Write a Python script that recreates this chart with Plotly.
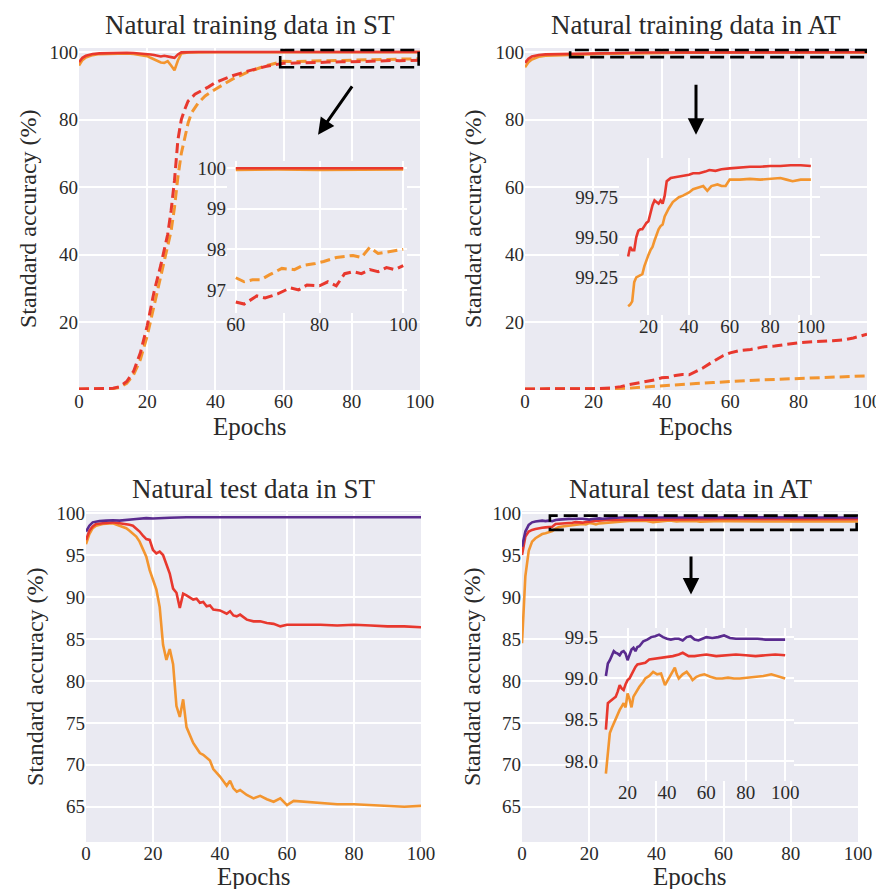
import plotly.graph_objects as go

# ---------------- data ----------------
epochs_ticks = [0, 20, 40, 60, 80, 100]

# Natural training data in ST
st_train_solid_x = [0, 1, 2, 3, 4, 6, 8, 10, 12, 14, 16, 18, 20, 21, 22, 23, 24, 25, 26, 27,
                    28, 29, 30, 32, 35, 40, 50, 60, 70, 80, 90, 100]
st_train_red_solid = [97.0, 98.3, 98.9, 99.2, 99.4, 99.6, 99.7, 99.75, 99.7, 99.8,
                      99.7, 99.6, 99.5, 99.3, 99.1, 98.8, 98.7, 98.9, 98.6, 98.5,
                      98.3, 99.3, 99.9, 99.98, 100.0, 100.0, 100.0, 100.0, 100.0, 100.0,
                      100.0, 100.0]
st_train_orange_solid = [96.0, 97.6, 98.4, 98.8, 99.1, 99.4, 99.5, 99.6, 99.6, 99.6,
                         99.4, 99.2, 98.8, 98.3, 97.8, 97.2, 96.9, 96.8, 97.3, 96.0,
                         94.6, 97.5, 99.6, 99.85, 99.95, 99.96, 99.96, 99.96, 99.97, 99.96,
                         99.97, 99.97]
st_train_red_dash_x = [0, 5, 10, 12, 14, 16, 18, 20, 22, 24, 26, 27, 28, 29, 30, 31, 32, 34, 36, 38,
                       40, 45, 50, 55, 60, 62, 65, 67, 70, 73, 75, 77, 80, 82, 84, 86, 88, 90, 92, 94,
                       96, 98, 100]
st_train_red_dash = [0.3, 0.3, 0.5, 1.0, 2.5, 5.5, 11.0, 19.0, 29.0, 37.0, 46.0, 53.0, 62.0, 74.0, 80.0, 83.0, 85.5, 87.5, 88.5, 89.7,
                     91.0, 93.0, 94.5, 95.8, 96.7, 96.65, 96.85, 96.8, 96.9, 97.05, 97.0, 97.12, 97.1, 97.2, 97.1, 97.4, 97.45, 97.4, 97.5, 97.45,
                     97.55, 97.5, 97.6]
st_train_orange_dash_x = [0, 5, 10, 12, 14, 16, 18, 20, 22, 24, 26, 27, 28, 29, 30, 31, 32, 33, 35, 37,
                          40, 45, 50, 55, 60, 62, 64, 66, 68, 71, 74, 76, 79, 81, 84, 88, 90, 92, 94, 97,
                          100]
st_train_orange_dash = [0.3, 0.3, 0.4, 0.8, 2.0, 4.5, 9.0, 16.0, 25.0, 34.0, 42.0, 47.0, 54.0, 63.0, 70.0, 75.0, 79.0, 82.0, 85.0, 87.0,
                        89.0, 92.0, 94.3, 96.0, 97.3, 97.2, 97.25, 97.25, 97.37, 97.53, 97.5, 97.6, 97.65, 97.7, 97.8, 97.85, 97.8, 98.05, 97.9, 97.95,
                        98.0]

# Natural training data in AT
at_train_red_x = [0, 1, 2, 3, 4, 6, 8, 10, 11, 12, 13, 14, 15, 16, 17, 18, 19, 20, 21, 22,
                  23, 24, 25, 26, 27, 28, 29, 30, 31, 33, 35, 38, 40, 42, 45, 48, 50, 53, 56, 60,
                  65, 70, 75, 80, 85, 90, 95, 100]
at_train_red_solid = [96.8, 98.0, 98.7, 99.0, 99.15, 99.3, 99.35, 99.38, 99.44, 99.42,
                      99.42, 99.5, 99.54, 99.55, 99.55, 99.57, 99.59, 99.6, 99.66, 99.70,
                      99.73, 99.72, 99.71, 99.73, 99.71, 99.76, 99.85, 99.86, 99.87, 99.875,
                      99.88, 99.885, 99.89, 99.9, 99.9, 99.91, 99.92, 99.915, 99.925, 99.93,
                      99.935, 99.94, 99.94, 99.945, 99.945, 99.95, 99.95, 99.945]
at_train_orange_x = [0, 1, 2, 3, 4, 6, 8, 10, 11, 12, 13, 14, 16, 17, 18, 19, 20, 21, 22, 23,
                     24, 25, 26, 27, 28, 29, 30, 32, 35, 37, 40, 42, 45, 47, 49, 51, 54, 56, 58, 60,
                     65, 70, 75, 80, 85, 88, 91, 95, 100]
at_train_orange_solid = [95.5, 97.0, 97.8, 98.3, 98.6, 98.9, 99.0, 99.07, 99.08, 99.10,
                         99.22, 99.25, 99.26, 99.27, 99.32, 99.36, 99.39, 99.42, 99.44, 99.48,
                         99.52, 99.55, 99.57, 99.58, 99.63, 99.66, 99.68, 99.72, 99.75, 99.76,
                         99.78, 99.8, 99.81, 99.82, 99.79, 99.82, 99.83, 99.82, 99.82, 99.86,
                         99.86, 99.865, 99.86, 99.865, 99.87, 99.86, 99.85, 99.86, 99.86]
at_train_red_dash_x = [0, 10, 20, 25, 28, 30, 33, 35, 38, 40, 42, 44, 46, 48, 50, 52, 54, 56, 58, 60,
                       63, 66, 70, 73, 76, 80, 83, 86, 90, 93, 96, 100]
at_train_red_dash = [0.3, 0.3, 0.4, 0.6, 1.0, 1.5, 2.0, 2.3, 3.0, 3.6, 3.8, 4.3, 4.6, 4.5, 5.5, 6.5, 7.8, 9.0, 10.2, 11.0,
                     11.7, 12.0, 12.8, 13.0, 13.5, 14.0, 14.2, 14.3, 14.6, 14.8, 15.4, 16.5]
at_train_orange_dash_x = [0, 20, 30, 35, 40, 45, 50, 55, 60, 65, 70, 75, 80, 85, 90, 95, 100]
at_train_orange_dash = [0.3, 0.3, 0.5, 0.9, 1.3, 1.6, 1.9, 2.2, 2.6, 2.8, 3.0, 3.2, 3.4, 3.6, 3.8, 4.0, 4.2]

# Natural test data in ST
st_test_purple_x = [0, 1, 2, 3, 4, 6, 8, 10, 12, 15, 18, 20, 25, 30, 40, 50, 60, 70, 80, 90, 100]
st_test_purple = [97.8, 98.5, 98.9, 99.0, 99.05, 99.1, 99.15, 99.1, 99.2, 99.3, 99.4, 99.35, 99.45,
                  99.5, 99.5, 99.5, 99.5, 99.5, 99.5, 99.5, 99.5]
st_test_red_x = [0, 1, 2, 3, 5, 8, 10, 12, 13, 14, 15, 16, 17, 18, 19, 20, 21, 22, 23, 24,
                 25, 26, 27, 28, 29, 30, 31, 32, 33, 34, 35, 36, 37, 38, 40, 42, 43, 44, 45, 46,
                 48, 50, 52, 54, 56, 58, 60, 65, 70, 75, 80, 85, 90, 95, 100]
st_test_red = [96.8, 97.9, 98.4, 98.7, 98.8, 98.9, 98.8, 98.7, 98.6, 98.5,
               98.2, 97.8, 97.3, 96.9, 96.8, 95.6, 95.2, 95.4, 95.0, 94.0,
               92.8, 91.0, 90.5, 88.7, 90.4, 90.2, 89.9, 89.7, 89.8, 89.3,
               89.4, 88.9, 89.0, 88.5, 88.4, 88.0, 88.3, 87.8, 87.7, 87.9,
               87.3, 87.1, 87.1, 86.9, 86.8, 86.5, 86.7, 86.7, 86.7, 86.6,
               86.7, 86.6, 86.5, 86.5, 86.4]
st_test_orange_x = [0, 1, 2, 3, 5, 8, 10, 12, 13, 14, 15, 16, 17, 18, 19, 20, 21, 22, 23, 24,
                    25, 26, 27, 28, 29, 30, 31, 32, 33, 34, 35, 36, 37, 38, 40, 42, 43, 44, 45, 46,
                    48, 50, 52, 54, 56, 58, 60, 62, 65, 70, 75, 80, 85, 90, 95, 100]
st_test_orange = [96.3, 97.5, 98.2, 98.5, 98.7, 98.8, 98.5, 98.2, 97.9, 97.6,
                  97.2, 96.6, 95.7, 94.8, 93.2, 92.0, 90.9, 88.8, 84.3, 82.5,
                  83.8, 82.0, 77.0, 75.7, 77.8, 74.5, 73.5, 72.6, 72.0, 71.4,
                  71.2, 70.9, 70.5, 69.5, 68.6, 67.5, 68.1, 67.2, 66.8, 67.0,
                  66.4, 66.0, 66.3, 65.9, 65.6, 66.0, 65.2, 65.7, 65.6, 65.4,
                  65.3, 65.3, 65.2, 65.1, 65.0, 65.1]

# Natural test data in AT
at_test_purple_x = [0, 1, 2, 3, 4, 5, 6, 7, 8, 9, 10, 11, 12, 13, 14, 15, 16, 17, 18, 19,
                    20, 21, 22, 23, 24, 25, 26, 27, 28, 30, 32, 34, 36, 38, 40, 42, 44, 46, 48,
                    50, 52, 54, 56, 58, 60, 63, 66, 69, 72, 75, 78, 82, 86, 90, 94, 97, 100]
at_test_purple = [96.0, 97.8, 98.6, 98.9, 99.0, 99.05, 99.1, 99.05, 99.1, 99.03,
                  99.18, 99.22, 99.28, 99.33, 99.31, 99.30, 99.28, 99.32, 99.33, 99.30,
                  99.22, 99.30, 99.35, 99.37, 99.33, 99.38, 99.39, 99.42, 99.45,
                  99.47, 99.5, 99.51, 99.53, 99.5, 99.48, 99.47, 99.48, 99.48, 99.46,
                  99.5, 99.51, 99.47, 99.46, 99.48, 99.5, 99.49, 99.5, 99.52, 99.49,
                  99.48, 99.48, 99.48, 99.48, 99.47, 99.47, 99.47, 99.47]
at_test_red_x = [0, 1, 2, 3, 4, 5, 6, 7, 8, 9, 10, 11, 12, 13, 14, 15, 16, 17, 18, 19,
                 20, 21, 22, 23, 24, 25, 27, 29, 31, 34, 37, 40, 43, 46, 48, 51, 54, 57, 60, 65,
                 70, 75, 80, 85, 90, 95, 100]
at_test_red = [95.0, 97.2, 97.8, 98.0, 98.1, 98.2, 98.25, 98.3, 98.35, 98.38,
               98.70, 98.72, 98.74, 98.77, 98.78, 98.84, 98.92, 98.88, 98.86, 98.93,
               98.98, 99.0, 99.05, 99.1, 99.14, 99.17, 99.18, 99.19, 99.23, 99.24,
               99.25, 99.26, 99.27, 99.29, 99.31, 99.27, 99.27, 99.28, 99.29, 99.27,
               99.28, 99.29, 99.28, 99.27, 99.28, 99.29, 99.28]
at_test_orange_x = [0, 1, 2, 3, 4, 5, 6, 7, 8, 9, 10, 11, 12, 13, 14, 15, 16, 17, 18, 19,
                    20, 21, 22, 23, 24, 26, 28, 29, 31, 33, 35, 37, 39, 41, 43, 44, 45, 46, 48, 50,
                    52, 53, 55, 57, 59, 62, 65, 68, 71, 74, 77, 81, 85, 89, 93, 96, 100]
at_test_orange = [84.5, 92.5, 95.5, 96.6, 97.0, 97.3, 97.5, 97.6, 97.7, 97.85,
                  98.14, 98.34, 98.4, 98.46, 98.5, 98.58, 98.62, 98.66, 98.7, 98.65,
                  98.82, 98.75, 98.65, 98.78, 98.82, 98.9, 98.96, 99.0, 99.03, 99.08,
                  99.05, 99.06, 98.92, 99.0, 99.08, 99.13, 99.05, 99.0, 99.05, 99.08,
                  99.02, 98.98, 99.02, 99.04, 99.05, 99.02, 99.0, 99.0, 99.01, 99.0,
                  99.0, 99.01, 99.02, 99.03, 99.05, 99.03, 99.0]

titles = ["Natural training data in ST", "Natural training data in AT",
          "Natural test data in ST", "Natural test data in AT"]
xlabel = "Epochs"
ylabel = "Standard accuracy (%)"

inset1_start, inset2_start, inset4_start = 60, 10, 9

# ---------------- style ----------------
RED = "#E8382E"
ORANGE = "#F3952F"
PURPLE = "#5A2B8F"
BG = "#EAEAF2"
FONT = "Liberation Serif"
TXT = "#2a2a2a"
PAGE_W, PAGE_H = 884, 889
OFF = 8                       # default page margin of the html body
W, H = PAGE_W - OFF, PAGE_H - OFF


def px_x(p):
    return (p - OFF) / W


def px_y(p):
    return 1 - (p - OFF) / H


fig = go.Figure()


def line(xs, ys, color, axis, dash=None, width=2.6, start=None):
    if start is not None:
        pairs = [(a, b) for a, b in zip(xs, ys) if a >= start]
        xs = [p[0] for p in pairs]
        ys = [p[1] for p in pairs]
    fig.add_trace(go.Scatter(
        x=xs, y=ys, mode="lines",
        line=dict(color=color, width=width, dash=dash if dash else "solid"),
        xaxis="x" + axis, yaxis="y" + axis, showlegend=False, hoverinfo="skip"))


DASH = "10px,5px"

# panel 1
line(st_train_solid_x, st_train_orange_solid, ORANGE, "")
line(st_train_solid_x, st_train_red_solid, RED, "")
line(st_train_orange_dash_x, st_train_orange_dash, ORANGE, "", DASH, 3)
line(st_train_red_dash_x, st_train_red_dash, RED, "", DASH, 3)
# panel 2
line(at_train_orange_x, at_train_orange_solid, ORANGE, "2")
line(at_train_red_x, at_train_red_solid, RED, "2")
line(at_train_orange_dash_x, at_train_orange_dash, ORANGE, "2", DASH, 3)
line(at_train_red_dash_x, at_train_red_dash, RED, "2", DASH, 3)
# panel 3
line(st_test_orange_x, st_test_orange, ORANGE, "3")
line(st_test_red_x, st_test_red, RED, "3")
line(st_test_purple_x, st_test_purple, PURPLE, "3")
# panel 4
line(at_test_orange_x, at_test_orange, ORANGE, "4")
line(at_test_red_x, at_test_red, RED, "4")
line(at_test_purple_x, at_test_purple, PURPLE, "4")
# inset 1 (ST training)
line(st_train_solid_x, st_train_orange_solid, ORANGE, "5", start=inset1_start)
line(st_train_solid_x, st_train_red_solid, RED, "5", start=inset1_start)
line(st_train_orange_dash_x, st_train_orange_dash, ORANGE, "5", DASH, 3, start=inset1_start)
line(st_train_red_dash_x, st_train_red_dash, RED, "5", DASH, 3, start=inset1_start)
# inset 2 (AT training)
line(at_train_orange_x, at_train_orange_solid, ORANGE, "6", start=inset2_start)
line(at_train_red_x, at_train_red_solid, RED, "6", start=inset2_start)
# inset 4 (AT test)
line(at_test_orange_x, at_test_orange, ORANGE, "7", start=inset4_start)
line(at_test_red_x, at_test_red, RED, "7", start=inset4_start)
line(at_test_purple_x, at_test_purple, PURPLE, "7", start=inset4_start)

tickfont = dict(family=FONT, size=19, color=TXT)
common = dict(showgrid=True, gridcolor="white", gridwidth=1.5, zeroline=False,
              showline=False, ticks="", tickfont=tickfont, fixedrange=True, automargin=False)

panels = {
    "": dict(x=(79, 420), y=(48, 390), xr=[0, 100], yr=[0, 101.2], yt=[20, 40, 60, 80, 100]),
    "2": dict(x=(525, 867), y=(48, 390), xr=[0, 100], yr=[0, 101.2], yt=[20, 40, 60, 80, 100]),
    "3": dict(x=(86, 421), y=(511, 842), xr=[0, 100], yr=[60.8, 100.25], yt=[65, 70, 75, 80, 85, 90, 95, 100]),
    "4": dict(x=(522, 858), y=(511, 842), xr=[0, 100], yr=[60.8, 100.25], yt=[65, 70, 75, 80, 85, 90, 95, 100]),
    "5": dict(x=(227, 407), y=(161, 313), xr=[57.9, 100.9], yr=[96.43, 100.18], yt=[97, 98, 99, 100],
              xt=[60, 80, 100]),
    "6": dict(x=(619, 820), y=(158, 315), xr=[5.5, 104.5], yr=[99.015, 99.995], yt=[99.25, 99.5, 99.75],
              xt=[20, 40, 60, 80, 100], yfmt=".2f"),
    "7": dict(x=(599, 794), y=(628, 781), xr=[5.5, 104.5], yr=[97.76, 99.61], yt=[98.0, 98.5, 99.0, 99.5],
              xt=[20, 40, 60, 80, 100], yfmt=".1f"),
}

layout = {}
for k, p in panels.items():
    xa = dict(common, domain=[px_x(p["x"][0]), px_x(p["x"][1])], range=p["xr"],
              anchor="y" + k, tickvals=p.get("xt", epochs_ticks), ticklabelstandoff=-2)
    ya = dict(common, domain=[px_y(p["y"][1]), px_y(p["y"][0])], range=p["yr"],
              anchor="x" + k, tickvals=p["yt"], ticklabelstandoff=0)
    if "yfmt" in p:
        ya["tickformat"] = p["yfmt"]
    layout["xaxis" + k] = xa
    layout["yaxis" + k] = ya

fig.update_layout(**layout)

annotations = []
title_pos = [(249.5, 25), (696, 25), (253.5, 489), (690, 489)]
for t, (cx, cy) in zip(titles, title_pos):
    annotations.append(dict(text=t, x=px_x(cx), y=px_y(cy), xref="paper", yref="paper",
                            showarrow=False, xanchor="center", yanchor="middle",
                            font=dict(family=FONT, size=27, color=TXT)))
for cx, cy in [(249.5, 426), (696, 426), (253.5, 876), (690, 876)]:
    annotations.append(dict(text=xlabel, x=px_x(cx), y=px_y(cy), xref="paper", yref="paper",
                            showarrow=False, xanchor="center", yanchor="middle",
                            font=dict(family=FONT, size=25, color=TXT)))
for cx, cy in [(28, 219), (473, 219), (35, 677), (472, 677)]:
    annotations.append(dict(text=ylabel, x=px_x(cx), y=px_y(cy), xref="paper", yref="paper",
                            showarrow=False, xanchor="center", yanchor="middle", textangle=-90,
                            font=dict(family=FONT, size=24, color=TXT)))

# zoom arrows (head at x,y; tail at ax,ay)
arrows = [("", 70.1, 75.5, 80.4, 90.3), ("2", 50, 75.5, 50, 90.8), ("4", 50.3, 90.3, 50.3, 95.0)]
for k, hx, hy, tx, ty in arrows:
    annotations.append(dict(text="", x=hx, y=hy, ax=tx, ay=ty, xref="x" + k, yref="y" + k,
                            axref="x" + k, ayref="y" + k, showarrow=True, arrowhead=2,
                            arrowsize=1.1, arrowwidth=3, arrowcolor="black", standoff=0))

shapes = []
rects = [("", 59, 99.6, 95.5, 100.6), ("2", 13.2, 99.7, 98.5, 100.6), ("4", 8.3, 99.6, 98.0, 99.7)]
for k, x0, x1, y0, y1 in rects:
    shapes.append(dict(type="rect", xref="x" + k, yref="y" + k, x0=x0, x1=x1, y0=y0, y1=y1,
                       line=dict(color="black", width=2.6, dash="14px,6px"),
                       fillcolor="rgba(0,0,0,0)", layer="above"))

fig.update_layout(
    width=W, height=H, margin=dict(l=0, r=0, t=0, b=0, autoexpand=False),
    paper_bgcolor="white", plot_bgcolor=BG,
    annotations=annotations, shapes=shapes, showlegend=False,
)

fig.write_html("out.html")
